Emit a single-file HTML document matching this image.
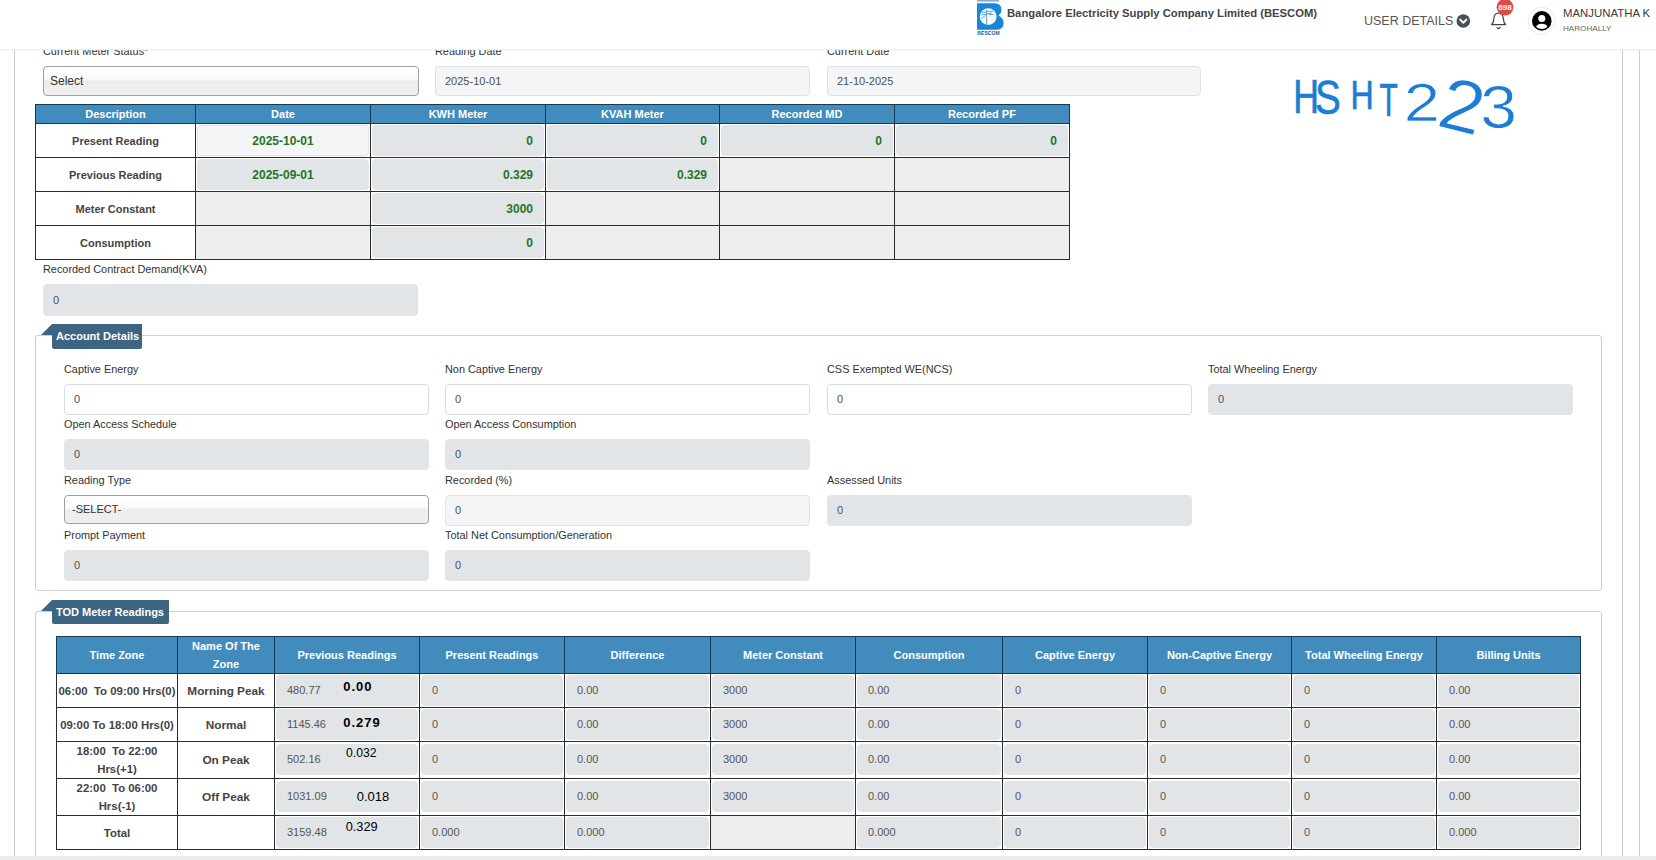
<!DOCTYPE html>
<html><head><meta charset="utf-8"><title>BESCOM</title>
<style>
*{box-sizing:border-box;margin:0;padding:0}
html,body{width:1656px;height:860px;overflow:hidden;background:#fff}
body{position:relative;font-family:"Liberation Sans",sans-serif;font-size:11px;color:#333}
.abs{position:absolute}
.hdr{position:absolute;left:0;top:0;width:1656px;height:49px;background:#fff;z-index:5;box-shadow:0 1px 1px #efefef,0 2px 4px rgba(0,0,0,.03)}
.vline{position:absolute;width:1px;background:#c8c8c8}
.lbl{position:absolute;font-size:10.9px;color:#333;white-space:nowrap;line-height:13px}
.inp{position:absolute;height:31px;border-radius:4px;font-size:11px;color:#495057;padding-left:9px;line-height:29px;white-space:nowrap}
.dis{background:#e2e5e8;border:1px solid #e2e5e8}
.wht{background:#fff;border:1px solid #d9dde1}
.ro{background:#f4f5f7;border:1px solid #dfe2e6}
.sel{background:linear-gradient(#fff 0%,#fbfbfb 42%,#ededed 52%,#efefef 100%);border:1px solid #a0a0a0;padding-left:7px;color:#333}
.panel{position:absolute;border:1px solid #cfcfcf;border-radius:3px}
.tag{position:absolute;background:#3d6582;color:#fff;font-weight:bold;font-size:11px;border-radius:0 0 2px 2px;white-space:nowrap}
.tag i{position:absolute;left:-11px;top:0;width:0;height:0;border-style:solid;border-width:0 0 11px 11px;border-color:transparent transparent #3d6582 transparent}
table{border-collapse:collapse;table-layout:fixed;position:absolute}
th{background:#418cbd;color:#fff;font-weight:bold;border:1px solid #163a52;font-size:11px;text-align:center;padding:0;line-height:18px}
td{border:1px solid #2b2b2b;padding:0;position:relative}

.t1 td{height:34px;background:#fff}
.t1 td.desc,.t2 td.tz,.t2 td.nm{font-weight:bold;color:#444;text-align:center;font-size:11px}
.t2 td.tz{font-size:11.4px}
.t2 td.nm{font-size:11.8px}
td.emp{background:#eee}
.ci{position:absolute;left:1px;right:1px;top:1px;height:31px;border-radius:4px;line-height:31px;white-space:nowrap;padding:0 10px}
.t1 .ci{color:#237523;font-weight:bold;font-size:12px}
.gc{text-align:center}.gr{text-align:right}
.t2 .ci{color:#555;font-size:11px;padding-left:10px;top:1px;height:31px;line-height:29px}
.t2 tr.tall .ci{top:2px}
.t2 td.tz{line-height:18px}
.ann{position:absolute;color:#000;line-height:1;white-space:nowrap}
.ann.b{font-weight:bold;font-size:13px;letter-spacing:1px}
.ann.r{font-size:12.2px}
</style></head><body>

<!-- header -->
<div class="hdr">
  <svg class="abs" style="left:0;top:0" width="1656" height="49" viewBox="0 0 1656 49">
    <!-- logo -->
    <rect x="977" y="0" width="22" height="1.6" fill="#4a8fc9" opacity=".7"/>
    <path d="M977,3.3 H994.5 Q1001.5,3.3 1001.5,10 Q1001.5,13.6 998.6,15.6 Q1003.6,18.2 1003.6,23.2 Q1003.6,29.8 995.8,29.8 H977 Z" fill="#1887d6"/>
    <circle cx="988.2" cy="16.6" r="8.4" fill="#f4fbff"/>
    <path d="M986.6,10 V25 M982,12.5 L993,11 M981.5,15 L992,13 M981.5,18.5 L985.5,15.5 M989,14.5 H993.5" stroke="#3c8fd0" stroke-width=".8" fill="none"/>
    <text x="977.3" y="34.6" font-family="Liberation Sans, sans-serif" font-weight="bold" font-size="4.6" fill="#2b5d8e" textLength="22.5" lengthAdjust="spacingAndGlyphs">BESCOM</text>
    <!-- chevron circle -->
    <circle cx="1463.3" cy="21" r="6.8" fill="#4b4f5c"/>
    <path d="M1460.2,19.6 L1463.3,22.7 L1466.4,19.6" stroke="#fff" stroke-width="2" fill="none" stroke-linecap="round" stroke-linejoin="round"/>
    <!-- bell -->
    <path d="M1491.6,24.6 Q1493.6,23 1493.8,19 Q1494,13.4 1498.6,13 Q1503.2,13.4 1503.4,19 Q1503.6,23 1505.6,24.6 Z" fill="none" stroke="#444" stroke-width="1.25" stroke-linejoin="round"/>
    <path d="M1497,27.6 L1498.6,28.8 L1500.2,27.6" stroke="#444" stroke-width="1.2" fill="none" stroke-linecap="round"/>
    <circle cx="1505" cy="7.2" r="8.4" fill="#e04a4a"/>
    <text x="1505" y="10" text-anchor="middle" font-family="Liberation Sans, sans-serif" font-weight="bold" font-size="8" fill="#fff">898</text>
    <!-- avatar -->
    <circle cx="1541.8" cy="20.8" r="13.6" fill="#fff" stroke="#ececec" stroke-width="1"/>
    <circle cx="1541.8" cy="20.9" r="9.8" fill="#000"/>
    <clipPath id="avc"><circle cx="1541.8" cy="20.9" r="8.2"/></clipPath>
    <circle cx="1541.8" cy="18.4" r="3.5" fill="#fff"/>
    <ellipse cx="1541.8" cy="27.6" rx="5.8" ry="3.9" fill="#fff" clip-path="url(#avc)"/>
  </svg>

  <div class="abs" style="left:1007px;top:6.6px;font-weight:bold;font-size:11.25px;color:#444;white-space:nowrap">Bangalore Electricity Supply Company Limited (BESCOM)</div>
  <div class="abs" style="left:1364px;top:14px;font-size:12.5px;color:#555;white-space:nowrap">USER DETAILS</div>
  <div class="abs" style="left:1563px;top:7.4px;font-size:11.4px;color:#3a3c40;white-space:nowrap">MANJUNATHA K</div>
  <div class="abs" style="left:1563px;top:24px;font-size:8.1px;color:#666;white-space:nowrap">HAROHALLY</div>
</div>


<svg class="abs" style="left:1280px;top:60px" width="260" height="100" viewBox="1280 60 260 100">
<g font-family="Liberation Sans, sans-serif" font-size="100" fill="#1b7dd3">
<text transform="matrix(0.3571,0,0,0.4783,1293.14,113.00)" stroke="#1b7dd3" stroke-width="0.6" vector-effect="non-scaling-stroke">H</text>
<text transform="matrix(0.3860,0,0,0.4789,1315.07,113.52)" stroke="#1b7dd3" stroke-width="0.6" vector-effect="non-scaling-stroke">S</text>
<text transform="matrix(0.3214,0,0,0.4058,1350.43,109.00)" stroke="#1b7dd3" stroke-width="0.6" vector-effect="non-scaling-stroke">H</text>
<text transform="matrix(0.2982,0,0,0.4638,1379.40,116.00)" stroke="#1b7dd3" stroke-width="0.6" vector-effect="non-scaling-stroke">T</text>
<text transform="matrix(0.6522,0,0,0.5286,1403.74,121.00)" stroke="#fff" stroke-width="0.8" vector-effect="non-scaling-stroke">2</text>
<text transform="rotate(14 1460 108) matrix(0.7826,0,0,0.7400,1440.09,131.00)" stroke="#fff" stroke-width="0.8" vector-effect="non-scaling-stroke">2</text>
<text transform="matrix(0.6596,0,0,0.6056,1480.36,128.39)" stroke="#fff" stroke-width="0.8" vector-effect="non-scaling-stroke">3</text>
</g>
</svg>

<!-- outer lines -->
<div class="vline" style="left:14px;top:49px;height:807px"></div>
<div class="vline" style="left:1622px;top:49px;height:807px"></div>
<div class="vline" style="left:1639px;top:49px;height:807px;background:#d0d0d0"></div>


<!-- row 1 -->
<div class="lbl" style="left:43px;top:45px">Current Meter Status*</div>
<div class="lbl" style="left:435px;top:45px">Reading Date</div>
<div class="lbl" style="left:827px;top:45px">Current Date</div>
<div class="inp sel" style="left:43px;top:66px;width:376px;height:30px;line-height:28px;font-size:12px;padding-left:6px">Select</div>
<div class="inp ro" style="left:435px;top:66px;width:375px;height:30px;line-height:28px">2025-10-01</div>
<div class="inp ro" style="left:827px;top:66px;width:374px;height:30px;line-height:28px">21-10-2025</div>

<table class="t1" style="left:35px;top:104px;width:1035px"><colgroup><col style="width:160px"><col style="width:175px"><col style="width:175px"><col style="width:174px"><col style="width:175px"><col style="width:175px"></colgroup><tr style="height:19px"><th>Description</th><th>Date</th><th>KWH Meter</th><th>KVAH Meter</th><th>Recorded MD</th><th>Recorded PF</th></tr><tr style="height:34px"><td class="desc">Present Reading</td><td><div class="ci ro gc">2025-10-01</div></td><td><div class="ci dis gr">0</div></td><td><div class="ci dis gr">0</div></td><td><div class="ci dis gr">0</div></td><td><div class="ci dis gr">0</div></td></tr><tr style="height:34px"><td class="desc">Previous Reading</td><td><div class="ci dis gc">2025-09-01</div></td><td><div class="ci dis gr">0.329</div></td><td><div class="ci dis gr">0.329</div></td><td class="emp"></td><td class="emp"></td></tr><tr style="height:34px"><td class="desc">Meter Constant</td><td class="emp"></td><td><div class="ci dis gr">3000</div></td><td class="emp"></td><td class="emp"></td><td class="emp"></td></tr><tr style="height:34px"><td class="desc">Consumption</td><td class="emp"></td><td><div class="ci dis gr">0</div></td><td class="emp"></td><td class="emp"></td><td class="emp"></td></tr></table>
<div class="lbl" style="left:43px;top:263px">Recorded Contract Demand(KVA)</div>
<div class="inp dis" style="left:43px;top:284px;width:375px;height:32px;line-height:30px">0</div>
<div class="panel" style="left:35px;top:335px;width:1567px;height:256px"></div>
<div class="tag" style="left:52px;top:324px;width:90px;height:25px;line-height:24px;padding-left:4px"><i></i>Account Details</div>
<div class="lbl" style="left:64px;top:363px">Captive Energy</div>
<div class="inp wht" style="left:64px;top:384px;width:365px">0</div>
<div class="lbl" style="left:445px;top:363px">Non Captive Energy</div>
<div class="inp wht" style="left:445px;top:384px;width:365px">0</div>
<div class="lbl" style="left:827px;top:363px">CSS Exempted WE(NCS)</div>
<div class="inp wht" style="left:827px;top:384px;width:365px">0</div>
<div class="lbl" style="left:1208px;top:363px">Total Wheeling Energy</div>
<div class="inp dis" style="left:1208px;top:384px;width:365px">0</div>
<div class="lbl" style="left:64px;top:418px">Open Access Schedule</div>
<div class="inp dis" style="left:64px;top:439px;width:365px">0</div>
<div class="lbl" style="left:445px;top:418px">Open Access Consumption</div>
<div class="inp dis" style="left:445px;top:439px;width:365px">0</div>
<div class="lbl" style="left:64px;top:474px">Reading Type</div>
<div class="inp sel" style="left:64px;top:495px;width:365px;height:29px;line-height:27px">-SELECT-</div>
<div class="lbl" style="left:445px;top:474px">Recorded (%)</div>
<div class="inp ro" style="left:445px;top:495px;width:365px">0</div>
<div class="lbl" style="left:827px;top:474px">Assessed Units</div>
<div class="inp dis" style="left:827px;top:495px;width:365px">0</div>
<div class="lbl" style="left:64px;top:529px">Prompt Payment</div>
<div class="inp dis" style="left:64px;top:550px;width:365px">0</div>
<div class="lbl" style="left:445px;top:529px">Total Net Consumption/Generation</div>
<div class="inp dis" style="left:445px;top:550px;width:365px">0</div>
<div class="panel" style="left:35px;top:611px;width:1567px;height:300px"></div>
<div class="tag" style="left:52px;top:600px;width:117px;height:24px;line-height:25px;padding-left:4px"><i></i>TOD Meter Readings</div>
<table class="t2" style="left:56px;top:636px;width:1525px"><colgroup><col style="width:121px"><col style="width:97px"><col style="width:145px"><col style="width:145px"><col style="width:146px"><col style="width:145px"><col style="width:147px"><col style="width:145px"><col style="width:144px"><col style="width:145px"><col style="width:144px"></colgroup><tr style="height:37px"><th>Time Zone</th><th>Name Of The Zone</th><th>Previous Readings</th><th>Present Readings</th><th>Difference</th><th>Meter Constant</th><th>Consumption</th><th>Captive Energy</th><th>Non-Captive Energy</th><th>Total Wheeling Energy</th><th>Billing Units</th></tr><tr style="height:34px"><td class="tz">06:00&nbsp; To 09:00 Hrs(0)</td><td class="nm">Morning Peak</td><td><div class="ci dis">480.77</div></td><td><div class="ci dis">0</div></td><td><div class="ci dis">0.00</div></td><td><div class="ci dis">3000</div></td><td><div class="ci dis">0.00</div></td><td><div class="ci dis">0</div></td><td><div class="ci dis">0</div></td><td><div class="ci dis">0</div></td><td><div class="ci dis">0.00</div></td></tr><tr style="height:34px"><td class="tz">09:00 To 18:00 Hrs(0)</td><td class="nm">Normal</td><td><div class="ci dis">1145.46</div></td><td><div class="ci dis">0</div></td><td><div class="ci dis">0.00</div></td><td><div class="ci dis">3000</div></td><td><div class="ci dis">0.00</div></td><td><div class="ci dis">0</div></td><td><div class="ci dis">0</div></td><td><div class="ci dis">0</div></td><td><div class="ci dis">0.00</div></td></tr><tr class="tall" style="height:37px"><td class="tz">18:00&nbsp; To 22:00<br>Hrs(+1)</td><td class="nm">On Peak</td><td><div class="ci dis">502.16</div></td><td><div class="ci dis">0</div></td><td><div class="ci dis">0.00</div></td><td><div class="ci dis">3000</div></td><td><div class="ci dis">0.00</div></td><td><div class="ci dis">0</div></td><td><div class="ci dis">0</div></td><td><div class="ci dis">0</div></td><td><div class="ci dis">0.00</div></td></tr><tr class="tall" style="height:37px"><td class="tz">22:00&nbsp; To 06:00<br>Hrs(-1)</td><td class="nm">Off Peak</td><td><div class="ci dis">1031.09</div></td><td><div class="ci dis">0</div></td><td><div class="ci dis">0.00</div></td><td><div class="ci dis">3000</div></td><td><div class="ci dis">0.00</div></td><td><div class="ci dis">0</div></td><td><div class="ci dis">0</div></td><td><div class="ci dis">0</div></td><td><div class="ci dis">0.00</div></td></tr><tr style="height:34px"><td class="tz">Total</td><td class="nm"></td><td><div class="ci dis">3159.48</div></td><td><div class="ci dis">0.000</div></td><td><div class="ci dis">0.000</div></td><td class="emp"></td><td><div class="ci dis">0.000</div></td><td><div class="ci dis">0</div></td><td><div class="ci dis">0</div></td><td><div class="ci dis">0</div></td><td><div class="ci dis">0.000</div></td></tr></table>
<div class="ann b" style="left:343.2px;top:680.4px;">0.00</div>
<div class="ann b" style="left:343.2px;top:715.6px;">0.279</div>
<div class="ann r" style="left:346.1px;top:746.6px;">0.032</div>
<div class="ann r" style="left:356.7px;top:790.3px;font-size:13px;">0.018</div>
<div class="ann r" style="left:345.7px;top:821.3px;font-size:12.8px;">0.329</div>
<div class="abs" style="left:0;top:856px;width:1656px;height:4px;background:#ebebeb;z-index:4"></div>
</body></html>
